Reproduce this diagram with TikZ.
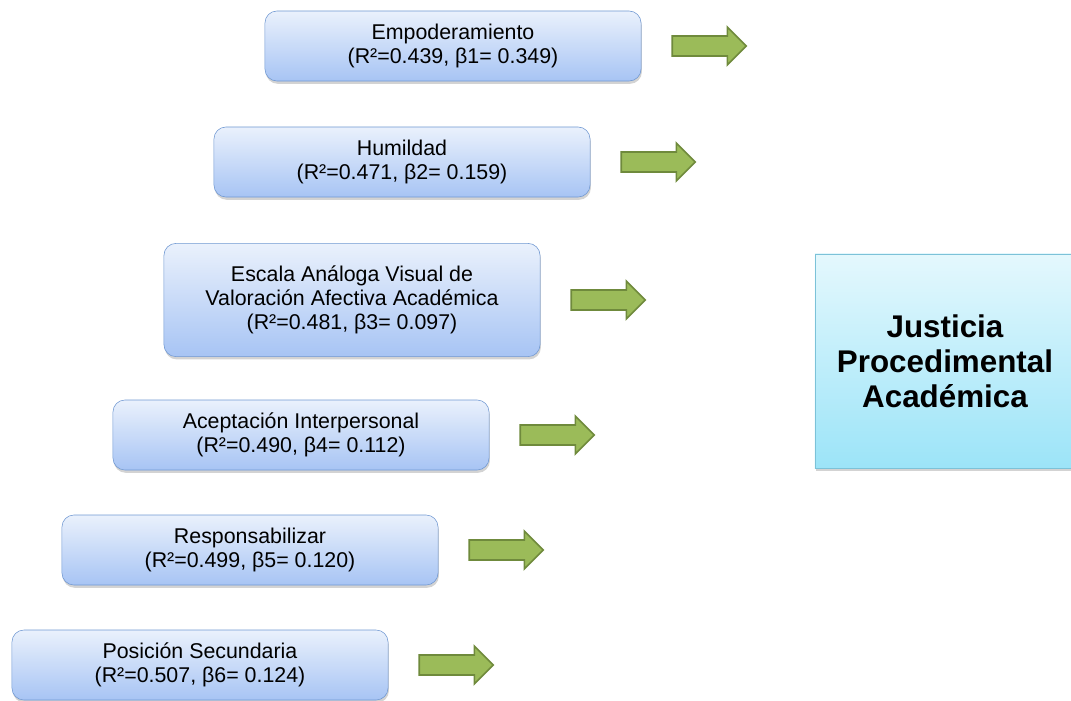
\documentclass[tikz,border=0pt]{standalone}
\usepackage{fontspec}
\setmainfont{Liberation Sans}
\usetikzlibrary{positioning,shapes.arrows,shadows}
\definecolor{cajaTop}{HTML}{EAF1FC}
\definecolor{cajaBot}{HTML}{A7C4F4}
\definecolor{cajaBorde}{HTML}{7098D2}
\definecolor{jpaTop}{HTML}{E4F8FD}
\definecolor{jpaBot}{HTML}{9CE4F8}
\definecolor{jpaBorde}{HTML}{7CC2D8}
\definecolor{verde}{HTML}{9BBB59}
\definecolor{verdeOsc}{HTML}{6F8A3C}

\begin{document}
\begin{tikzpicture}[x=0.025cm,y=-0.025cm,
    caja/.style={rounded corners=8.5pt,draw=cajaBorde,top color=cajaTop,bottom color=cajaBot,
        minimum width=9.4cm,minimum height=1.75cm,align=center,font=\fontsize{15.2}{17.3}\selectfont,
        drop shadow={shadow xshift=0.6pt,shadow yshift=-2pt,opacity=0.35}},
    flecha/.style={single arrow,draw=verdeOsc,fill=verde,line width=1.2pt,inner sep=0.23cm,
        minimum height=1.85cm,single arrow head extend=0.22cm},
    jpa/.style={draw=jpaBorde,top color=jpaTop,bottom color=jpaBot,minimum width=6.5cm,minimum height=5.35cm,
        align=center,font=\fontsize{22.3}{24.8}\selectfont\bfseries,
        drop shadow={shadow xshift=0.6pt,shadow yshift=-2pt,opacity=0.35}}]
    \useasboundingbox (0,0) rectangle (1071,700);
    \node[caja] (emp) at (453,46) {Empoderamiento\\(R²=0.439, β1= 0.349)};
    \node[caja] (hum) at (402,162) {Humildad\\(R²=0.471, β2= 0.159)};
    \node[caja,minimum height=2.83cm] (esc) at (352,300) {Escala Análoga Visual de\\Valoración Afectiva Académica\\(R²=0.481, β3= 0.097)};
    \node[caja] (acep) at (301,435) {Aceptación Interpersonal\\(R²=0.490, β4= 0.112)};
    \node[caja] (resp) at (250,550) {Responsabilizar\\(R²=0.499, β5= 0.120)};
    \node[caja] (pos) at (200,665) {Posición Secundaria\\(R²=0.507, β6= 0.124)};
    \foreach \b in {emp,hum,esc,acep,resp,pos} {
        \node[flecha,right=0.75cm of \b] (f\b) {};
    }
    \node[jpa] (jpa) at (945,361) {Justicia\\Procedimental\\Académica};
\end{tikzpicture}
\end{document}
